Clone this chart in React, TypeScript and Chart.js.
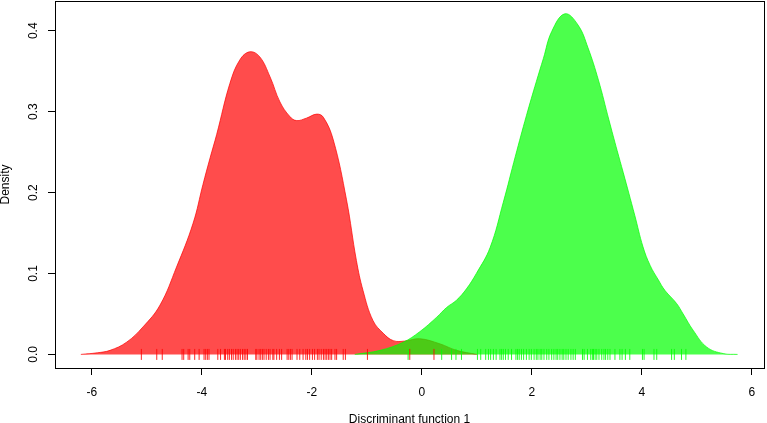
import React, { useEffect, useRef } from "react";
import { Chart, registerables } from "chart.js";

Chart.register(...registerables);

// Density curve of group 1 (red)
const redX = [-6.2, -5.9, -5.67, -5.37, -5.07, -4.76, -4.46, -4.16, -3.98, -3.85, -3.73, -3.49, -3.31, -3.13, -2.95, -2.76, -2.58, -2.4, -2.28, -2.1, -1.91, -1.79, -1.61, -1.37, -1.19, -1.07, -0.89, -0.7, -0.52, -0.31, -0.04, 0.33, 0.63, 1.0];
const redY = [0, 0.002, 0.005, 0.015, 0.034, 0.061, 0.108, 0.162, 0.21, 0.243, 0.272, 0.335, 0.364, 0.374, 0.368, 0.343, 0.312, 0.294, 0.289, 0.292, 0.297, 0.293, 0.265, 0.191, 0.116, 0.079, 0.042, 0.026, 0.017, 0.0165, 0.0194, 0.013, 0.005, 0];

// Density curve of group 2 (green)
const greenX = [-1.22, -0.76, -0.34, -0.04, 0.27, 0.45, 0.63, 0.81, 0.99, 1.24, 1.48, 1.7, 1.9, 2.08, 2.21, 2.36, 2.6, 2.84, 3.02, 3.21, 3.4, 3.55, 3.66, 3.87, 4.02, 4.15, 4.3, 4.42, 4.63, 4.75, 4.93, 5.18, 5.48, 5.74];
const greenY = [0, 0.005, 0.015, 0.028, 0.046, 0.058, 0.067, 0.081, 0.1, 0.132, 0.188, 0.245, 0.295, 0.337, 0.366, 0.399, 0.421, 0.407, 0.379, 0.339, 0.29, 0.252, 0.225, 0.172, 0.133, 0.11, 0.092, 0.079, 0.063, 0.05, 0.03, 0.009, 0.001, 0];

// Rug (individual discriminant scores)
const redRug = [-5.1, -4.82, -4.72, -4.36, -4.33, -4.25, -4.22, -4.13, -4.05, -3.96, -3.93, -3.9, -3.87, -3.71, -3.66, -3.59, -3.57, -3.53, -3.5, -3.46, -3.43, -3.39, -3.36, -3.33, -3.3, -3.26, -3.23, -3.2, -3.17, -3.02, -3.0, -2.96, -2.93, -2.9, -2.87, -2.83, -2.79, -2.76, -2.71, -2.69, -2.64, -2.59, -2.55, -2.45, -2.42, -2.39, -2.36, -2.27, -2.22, -2.16, -2.11, -2.08, -2.04, -1.99, -1.95, -1.9, -1.87, -1.83, -1.79, -1.76, -1.73, -1.7, -1.67, -1.64, -1.58, -1.55, -1.43, -1.39, -0.99, -0.22, 0.22];
const greenRug = [-0.25, 0.36, 0.54, 0.62, 0.72, 1.01, 1.07, 1.16, 1.21, 1.25, 1.3, 1.35, 1.42, 1.45, 1.48, 1.52, 1.57, 1.63, 1.71, 1.74, 1.77, 1.81, 1.85, 1.9, 1.95, 1.99, 2.04, 2.08, 2.11, 2.15, 2.18, 2.22, 2.27, 2.31, 2.36, 2.4, 2.44, 2.47, 2.51, 2.55, 2.58, 2.62, 2.66, 2.71, 2.75, 2.79, 2.92, 2.95, 3.01, 3.07, 3.1, 3.12, 3.15, 3.18, 3.22, 3.27, 3.31, 3.34, 3.38, 3.42, 3.51, 3.6, 3.64, 3.7, 3.78, 4.01, 4.04, 4.22, 4.27, 4.54, 4.59, 4.72, 4.8];

const xTicks = [-6, -4, -2, 0, 2, 4, 6];
const yTicks = [0, 0.1, 0.2, 0.3, 0.4];
const xLimits = [-6.67, 6.22];
const yLimits = [-0.0168, 0.4368];

const FONT = "'Liberation Sans', Arial, Helvetica, sans-serif";

export default function App() {
  const ref = useRef<HTMLCanvasElement>(null);

  useEffect(() => {
    document.body.style.margin = "0";
    const canvas = ref.current!;
    const boxPlugin = {
      id: "rbox",
      afterDraw(chart: any) {
        const { ctx, chartArea: a } = chart;
        ctx.save();
        ctx.strokeStyle = "#000";
        ctx.lineWidth = 1;
        ctx.strokeRect(Math.round(a.left) + 0.5, Math.round(a.top) + 0.5, Math.round(a.right - a.left), Math.round(a.bottom - a.top));
        ctx.restore();
      },
    };

    const pts = (xs: number[], ys: number[]) => xs.map((x, i) => ({ x, y: ys[i] }));
    const rug = (xs: number[]) => xs.map((x) => ({ x, y: 0 }));

    const rugSet = (xs: number[], color: string) => ({
      data: rug(xs),
      showLine: false,
      pointStyle: "line",
      rotation: 90,
      radius: 5.5,
      borderWidth: 1,
      borderColor: color,
      backgroundColor: color,
    });
    const densSet = (xs: number[], ys: number[], color: string) => ({
      data: pts(xs, ys),
      showLine: true,
      fill: "origin",
      tension: 0.4,
      pointRadius: 0,
      borderWidth: 1,
      borderColor: color,
      backgroundColor: color,
    });

    const chart = new Chart(canvas, {
      type: "scatter",
      data: {
        datasets: [
          rugSet(greenRug, "rgba(0,255,0,0.85)"),
          rugSet(redRug, "rgba(255,0,0,0.85)"),
          densSet(greenX, greenY, "rgba(0,255,0,0.7)"),
          densSet(redX, redY, "rgba(255,0,0,0.7)"),
        ] as any,
      },
      options: {
        animation: false,
        responsive: false,
        devicePixelRatio: 1,
        layout: { autoPadding: false, padding: { left: 0, top: 1, right: 3, bottom: 0 } },
        plugins: { legend: { display: false }, tooltip: { enabled: false } },
        scales: {
          x: {
            type: "linear",
            min: xLimits[0],
            max: xLimits[1],
            afterBuildTicks: (s: any) => {
              s.ticks = xTicks.map((v) => ({ value: v }));
            },
            afterFit: (s: any) => {
              s.height = 55;
              s.paddingLeft = 0;
              s.paddingRight = 0;
              s.paddingTop = 0;
              s.paddingBottom = 0;
            },
            border: { display: false },
            grid: { drawOnChartArea: false, drawTicks: true, tickLength: 7, color: "#000", tickColor: "#000" },
            ticks: {
              color: "#000",
              font: { family: FONT, size: 12 },
              padding: 10,
              maxRotation: 0,
              minRotation: 0,
              callback: (v: any) => String(v),
            },
            title: {
              display: true,
              text: "Discriminant function 1",
              color: "#000",
              font: { family: FONT, size: 12, lineHeight: 1 },
              padding: { top: 0, bottom: -3 },
            },
          },
          y: {
            type: "linear",
            min: yLimits[0],
            max: yLimits[1],
            afterBuildTicks: (s: any) => {
              s.ticks = yTicks.map((v) => ({ value: v }));
            },
            afterFit: (s: any) => {
              s.width = 55;
              s.paddingLeft = 0;
              s.paddingRight = 0;
              s.paddingTop = 0;
              s.paddingBottom = 0;
            },
            border: { display: false },
            grid: { drawOnChartArea: false, drawTicks: true, tickLength: 7, color: "#000", tickColor: "#000" },
            ticks: {
              color: "#000",
              font: { family: FONT, size: 12 },
              padding: 6,
              minRotation: 90,
              maxRotation: 90,
              crossAlign: "center",
              callback: (v: any) => Number(v).toFixed(1),
            },
            title: {
              display: true,
              text: "Density",
              color: "#000",
              font: { family: FONT, size: 12, lineHeight: 1 },
              padding: { top: 0, bottom: 0 },
            },
          },
        },
      } as any,
      plugins: [boxPlugin],
    });
    return () => chart.destroy();
  }, []);

  return (
    <div style={{ width: 767, height: 423 }}>
      <canvas ref={ref} width={767} height={423} style={{ display: "block" }} />
    </div>
  );
}
